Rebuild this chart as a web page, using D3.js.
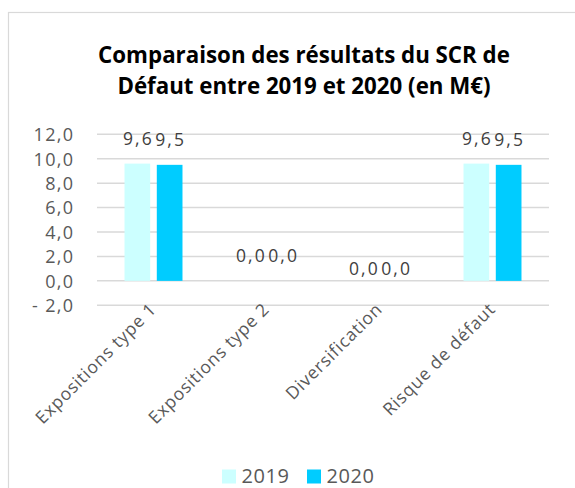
<!DOCTYPE html>
<html>
<head>
<meta charset="utf-8">
<script src="https://cdn.jsdelivr.net/npm/d3@7"></script>
<style>
  body { margin: 0; background: #fff; }
  svg { display: block; font-family: "Open Sans", sans-serif; }
</style>
</head>
<body>
<svg id="chart" width="575" height="488"></svg>
<script>
const titleLines = ["Comparaison des résultats du SCR de", "Défaut entre 2019 et 2020 (en M€)"];
const categories = ["Expositions type 1", "Expositions type 2", "Diversification", "Risque de défaut"];
const seriesNames = ["2019", "2020"];
const values2019 = [9.6, 0.0, 0.0, 9.6];
const values2020 = [9.5, 0.0, 0.0, 9.5];
const yTicks = [-2, 0, 2, 4, 6, 8, 10, 12];
const colors = ["#CCFFFF", "#00CCFF"];

const svg = d3.select("#chart");

// chart area border
svg.append("rect").attr("x", 8.5).attr("y", 12.5).attr("width", 620).attr("height", 500)
  .attr("fill", "#fff").attr("stroke", "#d9d9d9").attr("stroke-width", 1.2);

// title
const title = svg.append("text").attr("text-anchor", "middle")
  .attr("font-weight", "bold").attr("font-size", 22.3).attr("fill", "#000");
titleLines.forEach((t, i) => {
  title.append("tspan").attr("x", 304).attr("y", 63 + i * 30.5).text(t);
});

const plot = { left: 97, right: 549, top: 134.3, bottom: 305.3 };
const y = d3.scaleLinear().domain([-2, 12]).range([plot.bottom, plot.top]);
const x0 = d3.scaleBand().domain(categories).range([plot.left, plot.right])
  .paddingInner(0.487).paddingOuter(0.2435);
const x1 = d3.scaleBand().domain(seriesNames).range([0, x0.bandwidth()])
  .paddingInner(0.204).paddingOuter(0);

const fmt = v => {
  const s = d3.format(".1f")(Math.abs(v)).replace(".", ",");
  return v < 0 ? "- " + s : s;
};

// gridlines
svg.append("g").selectAll("line").data(yTicks).join("line")
  .attr("x1", plot.left).attr("x2", plot.right)
  .attr("y1", d => y(d)).attr("y2", d => y(d))
  .attr("stroke", "#d9d9d9").attr("stroke-width", 1.5);

// y axis labels
const yAxis = d3.axisLeft(y).tickValues(yTicks).tickFormat(fmt).tickSize(0).tickPadding(0);
const yg = svg.append("g").attr("transform", `translate(${plot.left - 24},0)`).call(yAxis);
yg.select(".domain").remove();
yg.selectAll("text").attr("font-family", "Open Sans").attr("font-size", 18)
  .attr("letter-spacing", 1.3).attr("text-anchor", "end").attr("x", 1.3)
  .attr("fill", "#595959").attr("dy", "0.35em");

// bars
const data = categories.map((c, i) => ({ cat: c, vals: [values2019[i], values2020[i]] }));
const groups = svg.append("g").selectAll("g").data(data).join("g")
  .attr("transform", d => `translate(${x0(d.cat)},0)`);
groups.selectAll("rect").data(d => d.vals.map((v, j) => ({ v, s: seriesNames[j], j })))
  .join("rect")
  .attr("x", d => x1(d.s)).attr("width", x1.bandwidth())
  .attr("y", d => y(Math.max(0, d.v))).attr("height", d => Math.abs(y(d.v) - y(0)))
  .attr("fill", d => colors[d.j]);

// data labels
const labelNudge = { "Diversification": 12.5 };
groups.selectAll("text").data(d => d.vals.map((v, j) => ({ v, s: seriesNames[j], cat: d.cat })))
  .join("text")
  .attr("x", d => x1(d.s) + x1.bandwidth() / 2 + 1)
  .attr("y", d => y(Math.max(0, d.v)) - 18.5 + (labelNudge[d.cat] || 0))
  .attr("text-anchor", "middle").attr("font-size", 17.5).attr("letter-spacing", 2)
  .attr("fill", "#404040")
  .text(d => fmt(d.v));

// x axis labels
const xAxis = d3.axisBottom(x0).tickSize(0).tickPadding(0);
const xg = svg.append("g").attr("transform", `translate(0,${plot.bottom})`).call(xAxis);
xg.select(".domain").remove();
xg.selectAll("text").attr("font-family", "Open Sans").attr("font-size", 17.5)
  .attr("letter-spacing", 0.8)
  .attr("fill", "#595959").attr("text-anchor", "end")
  .attr("y", 0).attr("dy", null)
  .attr("transform", "translate(4,5) rotate(-45)");

// legend
const legend = svg.append("g");
const legX = [222, 307];
seriesNames.forEach((s, i) => {
  legend.append("rect").attr("x", legX[i]).attr("y", 469.5).attr("width", 14).attr("height", 14)
    .attr("fill", colors[i]);
  legend.append("text").attr("x", legX[i] + 19.5).attr("y", 483)
    .attr("font-size", 20).attr("letter-spacing", 0.6).attr("fill", "#595959").text(s);
});
</script>
</body>
</html>
